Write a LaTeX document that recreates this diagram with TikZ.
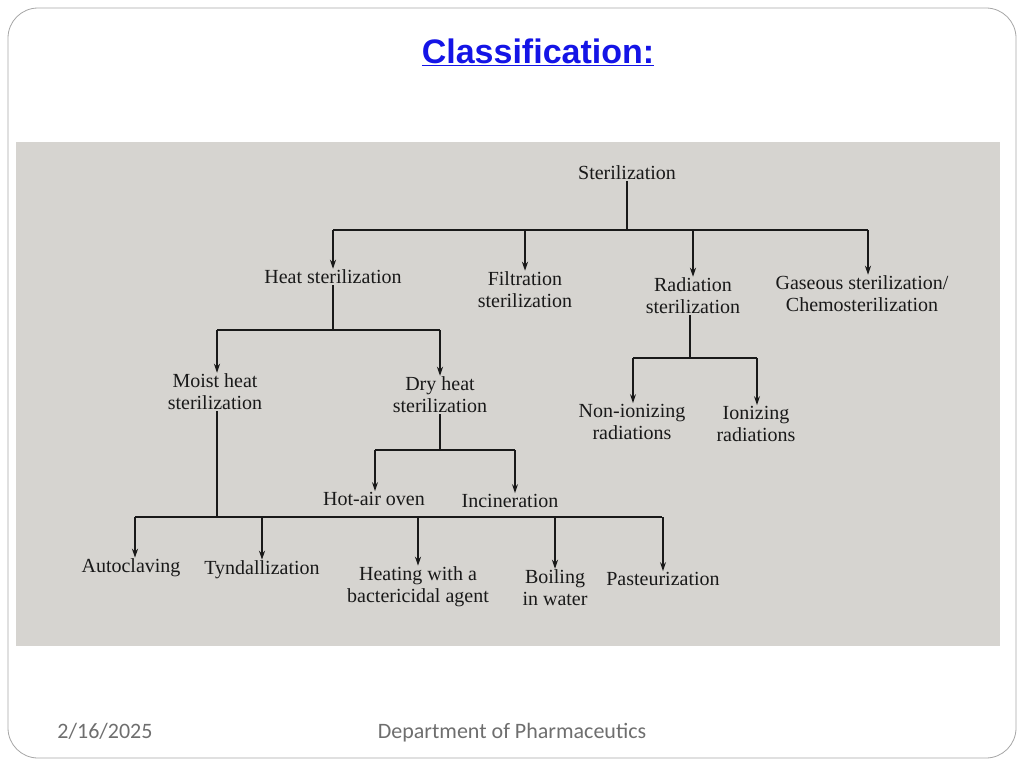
\documentclass[tikz,border=0pt]{standalone}
\usepackage{fontspec}
\setmainfont{Liberation Serif}
\newfontfamily\slidefont{Carlito}
\newfontfamily\titlefont{Liberation Sans}
\usetikzlibrary{arrows.meta,positioning,calc}
\definecolor{paper}{RGB}{214,212,208}
\definecolor{ink}{RGB}{25,25,25}
\definecolor{titleblue}{RGB}{20,20,230}
\definecolor{footgray}{RGB}{110,110,110}

\begin{document}
\begin{tikzpicture}[x=1pt,y=-1pt,
    box/.style={font=\fontsize{20}{22}\selectfont,text=ink,align=center,inner sep=1pt},
    link/.style={draw=ink,line width=1.2pt},
    arr/.style={link,-{Stealth[length=9pt,width=6pt]}},
    foot/.style={text=footgray,font=\slidefont\fontsize{22}{24}\selectfont,anchor=base}]
    \useasboundingbox (0,0) rectangle (1024,768);
    \draw[gray!70,line width=0.8pt,rounded corners=30pt] (8,8) rectangle (1016,758);
    \node (title) at (538,52) {\titlefont\bfseries\fontsize{34}{36}\selectfont\color{titleblue}\underline{Classification:}};
    \fill[paper] (16,142) rectangle (1000,646);
    % tree
    \node[box] (ster) at (627,173) {Sterilization};
    \node[box] (heat) at (333,277) {Heat sterilization};
    \node[box] (filt) at (525,290) {Filtration\\sterilization};
    \node[box] (rad) at (693,296) {Radiation\\sterilization};
    \node[box] (gas) at (862,294) {Gaseous sterilization/\\Chemosterilization};
    \node[box] (moist) at (215,392) {Moist heat\\sterilization};
    \node[box] (dry) at (440,395) {Dry heat\\sterilization};
    \node[box] (nonion) at (632,422) {Non-ionizing\\radiations};
    \node[box] (ion) at (756,424) {Ionizing\\radiations};
    \node[box] (oven) at (374,499) {Hot-air oven};
    \node[box] (incin) at (510,501) {Incineration};
    \node[box] (auto) at (131,568) {Autoclaving};
    \node[box] (tynd) at (262,570) {Tyndallization};
    \node[box] (bact) at (418,587) {Heating with a\\bactericidal agent};
    \node[box] (boil) at (555,588) {Boiling\\in water};
    \node[box] (past) at (663,579) {Pasteurization};
    % junctions and bar ends
    \coordinate (jS) at (627,230);
    \coordinate (sL) at (333,230); \coordinate (sR) at (868,230);
    \coordinate (jH) at (333,330);
    \coordinate (hL) at (217,330); \coordinate (hR) at (440,330);
    \coordinate (jR) at (690,358);
    \coordinate (rL) at (633,358); \coordinate (rR) at (757,358);
    \coordinate (jD) at (440,450);
    \coordinate (dL) at (375,450); \coordinate (dR) at (515,450);
    \coordinate (jM) at (217,517);
    \coordinate (mL) at (135,517); \coordinate (mR) at (662,517);
    \draw[link] (ster.south) -- (jS);
    \draw[link] (heat.south) -- (jH);
    \draw[link] (rad.south -| jR) -- (jR);
    \draw[link] (dry.south) -- (jD);
    \draw[link] (moist.south -| jM) -- (jM);
    \draw[link] (sL) -- (sR);
    \draw[link] (hL) -- (hR);
    \draw[link] (rL) -- (rR);
    \draw[link] (dL) -- (dR);
    \draw[link] (mL) -- (mR);
    \draw[arr] (sL) -- (heat.north);
    \draw[arr] (sR) -- (sR |- gas.north);
    \foreach \t in {filt,rad}
      \draw[arr] (\t.north |- jS) -- (\t.north);
    \draw[arr] (hL) -- (hL |- moist.north);
    \draw[arr] (hR) -- (dry.north);
    \draw[arr] (rL) -- (rL |- nonion.north);
    \draw[arr] (rR) -- (rR |- ion.north);
    \draw[arr] (dL) -- (dL |- oven.north);
    \draw[arr] (dR) -- (dR |- incin.north);
    \draw[arr] (mL) -- (mL |- auto.north);
    \foreach \t in {tynd,bact,boil,past}
      \draw[arr] (\t.north |- jM) -- (\t.north);
    % footer
    \node[foot] (date) at (105,738) {2/16/2025};
    \node[foot] (dept) at (512,738) {Department of Pharmaceutics};
\end{tikzpicture}
\end{document}
